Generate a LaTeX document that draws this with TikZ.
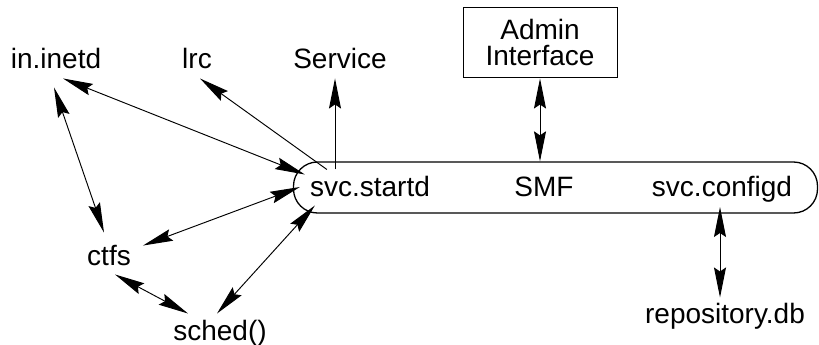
\documentclass[tikz,border=0pt]{standalone}
\usepackage{fontspec}
\setmainfont{Liberation Sans}
\usetikzlibrary{arrows.meta}
\begin{document}
\begin{tikzpicture}[x=1pt,y=-1pt,
  lbl/.style={inner sep=0pt,anchor=base,font=\fontsize{28}{26}\selectfont},
  conn/.style={line width=0.95pt,-{Stealth[length=30pt,width=12pt,inset=4pt]}},
  biconn/.style={line width=0.95pt,{Stealth[length=30pt,width=12pt,inset=4pt]}-{Stealth[length=30pt,width=12pt,inset=4pt]}}]
\useasboundingbox (0,0) rectangle (819,345);
% SMF rounded box
\node[draw,line width=1.3pt,rounded corners=24pt,minimum width=524pt,minimum height=51pt,inner sep=0pt] (smfbox) at (555.5,187.5) {};
\node[lbl] (startd) at (370,196) {svc.startd};
\node[lbl] (smf) at (544,196) {SMF};
\node[lbl] (configd) at (722,196) {svc.configd};
% top nodes
\node[lbl] (inetd) at (56,68) {in.inetd};
\node[lbl] (lrc) at (197,68) {lrc};
\node[lbl] (service) at (340,68) {Service};
\node[draw,line width=1pt,minimum width=154pt,minimum height=69pt,align=center,inner sep=0pt,font=\fontsize{28}{26}\selectfont] (admin) at (540,42.5) {Admin\\Interface};
% bottom nodes
\node[lbl] (ctfs) at (109,265) {ctfs};
\node[lbl] (sched) at (220,340) {sched()};
\node[lbl] (repo) at (725,323) {repository.db};
% connectors
\draw[biconn] ([shift={(7,10)}]inetd.south) -- ([shift={(-5,-1)}]startd.north west);
\draw[conn] ([shift={(17,-6)}]startd.north west) -- ([shift={(3,10)}]lrc.south);
\draw[conn] ([shift={(-5,8)}]service.south |- smfbox.north) -- ([shift={(-5,10)}]service.south);
\draw[biconn] ([shift={(0,1)}]admin.south) -- (admin.south |- smfbox.north);
\draw[biconn] ([shift={(-2,5)}]configd.south) -- ([shift={(-5,-5)}]repo.north);
\draw[biconn] ([shift={(-2,19)}]inetd.south) -- ([shift={(-5,-12)}]ctfs.north);
\draw[biconn] ([shift={(12,1)}]ctfs.north east) -- ([shift={(-10,1)}]startd.west);
\draw[biconn] ([shift={(6,9)}]ctfs.south) -- ([shift={(-32,-6)}]sched.north);
\draw[biconn] ([shift={(-3,-6)}]sched.north) -- ([shift={(5,9)}]startd.south west);
\end{tikzpicture}
\end{document}
